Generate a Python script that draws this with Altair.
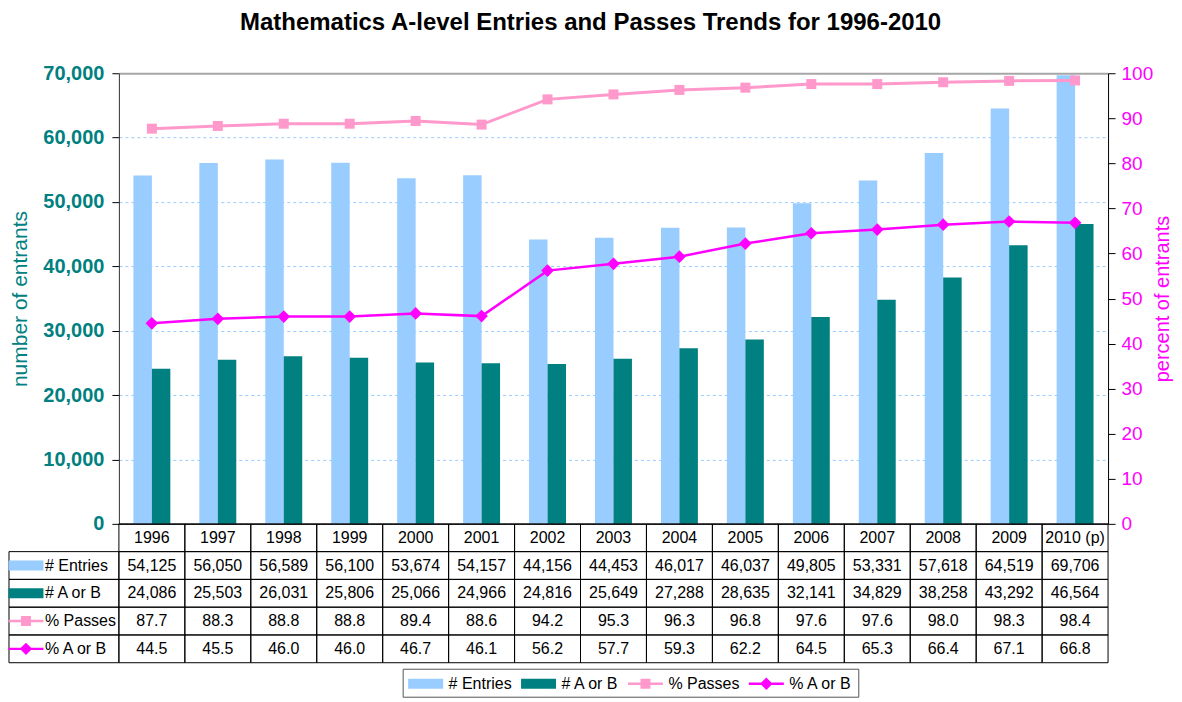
import altair as alt
import pandas as pd

years = ["1996", "1997", "1998", "1999", "2000", "2001", "2002", "2003",
         "2004", "2005", "2006", "2007", "2008", "2009", "2010 (p)"]
entries = [54125, 56050, 56589, 56100, 53674, 54157, 44156, 44453,
           46017, 46037, 49805, 53331, 57618, 64519, 69706]
a_or_b = [24086, 25503, 26031, 25806, 25066, 24966, 24816, 25649,
          27288, 28635, 32141, 34829, 38258, 43292, 46564]
pct_passes = [87.7, 88.3, 88.8, 88.8, 89.4, 88.6, 94.2, 95.3,
              96.3, 96.8, 97.6, 97.6, 98.0, 98.3, 98.4]
pct_a_or_b = [44.5, 45.5, 46.0, 46.0, 46.7, 46.1, 56.2, 57.7,
              59.3, 62.2, 64.5, 65.3, 66.4, 67.1, 66.8]

series = ["# Entries", "# A or B", "% Passes", "% A or B"]
colors = ["#99CCFF", "#008080", "#FF99CC", "#FF00FF"]
left_ticks = [0, 10000, 20000, 30000, 40000, 50000, 60000, 70000]
right_ticks = [0, 10, 20, 30, 40, 50, 60, 70, 80, 90, 100]
rows = ["year"] + series

TEAL = "#008080"
MAGENTA = "#FF00FF"
FONT = "Liberation Sans"

n = len(years)
counts = pd.DataFrame({
    "year": years * 2,
    "series": [series[0]] * n + [series[1]] * n,
    "value": entries + a_or_b,
})
pcts = pd.DataFrame({
    "year": years * 2,
    "series": [series[2]] * n + [series[3]] * n,
    "value": pct_passes + pct_a_or_b,
})

table = pd.DataFrame(
    [{"year": y, "row": "year", "text": y} for y in years]
    + [{"year": y, "row": series[0], "text": f"{v:,}"} for y, v in zip(years, entries)]
    + [{"year": y, "row": series[1], "text": f"{v:,}"} for y, v in zip(years, a_or_b)]
    + [{"year": y, "row": series[2], "text": f"{v:.1f}"} for y, v in zip(years, pct_passes)]
    + [{"year": y, "row": series[3], "text": f"{v:.1f}"} for y, v in zip(years, pct_a_or_b)]
)
labels = pd.DataFrame({"row": series, "series": series})

W, H = 990, 451
LW, TH = 110, 139

x_main = alt.X("year:N", sort=years,
               scale=alt.Scale(domain=years, paddingInner=0.44, paddingOuter=0.22),
               axis=alt.Axis(labels=False, ticks=False, title=None, grid=False,
                             domainColor="black", domainWidth=1))

left_axis = alt.Axis(
    values=left_ticks, labelExpr="format(datum.value, ',')", orient="left",
    title="number of entrants", titleColor=TEAL, titleFontSize=21,
    titleFontWeight="normal", titlePadding=12, titleFont=FONT,
    labelColor=TEAL, labelFontSize=20, labelFontWeight="bold", labelFont=FONT,
    labelPadding=8, tickSize=7, tickColor="black", domainColor="#333333",
    grid=True,
    gridColor=alt.condition("datum.value == 70000", alt.value("#A6A6A6"), alt.value("#99CCFF")),
    gridDash=alt.condition("datum.value == 70000", alt.value([1, 0]), alt.value([3, 3])),
    gridWidth=alt.condition("datum.value == 70000", alt.value(2), alt.value(1)),
)
right_axis = alt.Axis(
    values=right_ticks, orient="right",
    title="percent of entrants", titleColor=MAGENTA, titleFontSize=20,
    titleFontWeight="normal", titlePadding=0, titleAngle=270, titleBaseline="top",
    titleFont=FONT,
    labelColor=MAGENTA, labelFontSize=19, labelFont=FONT,
    labelPadding=6, tickSize=7, tickColor="black", domainColor="black",
    grid=False,
)

y_left = alt.Y("value:Q", scale=alt.Scale(domain=[0, 70000], nice=False), axis=left_axis)
y_right = alt.Y("value:Q", scale=alt.Scale(domain=[0, 100], nice=False), axis=right_axis)
x_off = alt.XOffset("series:N", sort=series[:2], scale=alt.Scale(domain=series[:2]))

bar_entries = alt.Chart(counts).transform_filter(
    alt.datum.series == series[0]).mark_bar(color=colors[0]).encode(
    x=x_main, xOffset=x_off, y=y_left)
bar_ab = alt.Chart(counts).transform_filter(
    alt.datum.series == series[1]).mark_bar(color=colors[1]).encode(
    x=x_main, xOffset=x_off, y=y_left)
bars = alt.layer(bar_entries, bar_ab)

base_pass = alt.Chart(pcts).transform_filter(alt.datum.series == series[2])
base_ab = alt.Chart(pcts).transform_filter(alt.datum.series == series[3])
line_pass = base_pass.mark_line(color=colors[2], strokeWidth=3).encode(x=x_main, y=y_right)
pt_pass = base_pass.mark_point(shape="square", filled=True, size=100, opacity=1,
                               color=colors[2]).encode(x=x_main, y=y_right)
line_ab = base_ab.mark_line(color=colors[3], strokeWidth=2.5).encode(x=x_main, y=y_right)
pt_ab = base_ab.mark_point(shape="diamond", filled=True, size=160, opacity=1,
                           color=colors[3]).encode(x=x_main, y=y_right)
lines = alt.layer(line_pass, pt_pass, line_ab, pt_ab)

main = alt.layer(bars, lines).resolve_scale(y="independent").properties(width=W, height=H)

# data table
x_tab = alt.X("year:N", sort=years,
              scale=alt.Scale(domain=years, paddingInner=0, paddingOuter=0), axis=None)
y_tab = alt.Y("row:N", sort=rows,
              scale=alt.Scale(domain=rows, paddingInner=0, paddingOuter=0), axis=None)
cells = alt.Chart(table).mark_rect(fill="transparent", stroke="black", strokeWidth=1).encode(
    x=x_tab, y=y_tab)
cell_text = alt.Chart(table).mark_text(fontSize=16, color="black", font=FONT).encode(
    x=x_tab, y=y_tab, text="text:N")
tab = alt.layer(cells, cell_text).properties(width=W, height=TH)

# label column with legend symbols
paths = [
    "M-1.75,-0.5H1.75V0.5H-1.75Z",
    "M-1.75,-0.5H1.75V0.5H-1.75Z",
    "M-1.75,-0.12H1.75V0.12H-1.75Z M-0.5,-0.5H0.5V0.5H-0.5Z",
    "M-1.75,-0.12H1.75V0.12H-1.75Z M0,-0.62L0.62,0L0,0.62L-0.62,0Z",
]
leg = alt.Legend(orient="none", legendX=394, legendY=596, direction="horizontal",
                 symbolSize=400, symbolStrokeWidth=0, symbolOffset=8, labelOffset=13,
                 columnPadding=8, labelFontSize=16, labelFont=FONT, labelColor="black",
                 strokeColor="#555555", fillColor="white", padding=5)
lab_cells = alt.Chart(labels).mark_rect(fill="transparent", stroke="black", strokeWidth=1).encode(
    x=alt.value(0), x2=alt.value(LW), y=y_tab)
lab_sym = alt.Chart(labels).mark_point(filled=True, opacity=1, size=400).encode(
    x=alt.value(17), y=y_tab,
    color=alt.Color("series:N", title=None, sort=series,
                    scale=alt.Scale(domain=series, range=colors), legend=leg),
    shape=alt.Shape("series:N", title=None, sort=series,
                    scale=alt.Scale(domain=series, range=paths), legend=leg),
)
lab_text = alt.Chart(labels).mark_text(align="left", fontSize=16, color="black", font=FONT).encode(
    x=alt.value(36), y=y_tab, text="series:N")
lab = alt.layer(lab_cells, lab_sym, lab_text).properties(width=LW, height=TH)

spacer = alt.Chart(pd.DataFrame({"a": [0]})).mark_point(opacity=0).properties(width=LW, height=H)

chart = alt.concat(spacer, main, lab, tab, columns=2, spacing=0, bounds="flush").properties(
    title=alt.TitleParams("Mathematics A-level Entries and Passes Trends for 1996-2010",
                          fontSize=24, fontWeight="bold", font=FONT, color="black",
                          anchor="middle", offset=28),
    padding={"left": 0, "top": 2, "right": 0, "bottom": 0},
).configure(font=FONT).configure_view(stroke="transparent")

chart.save("out.html", embed_options={"renderer": "svg", "actions": False})
